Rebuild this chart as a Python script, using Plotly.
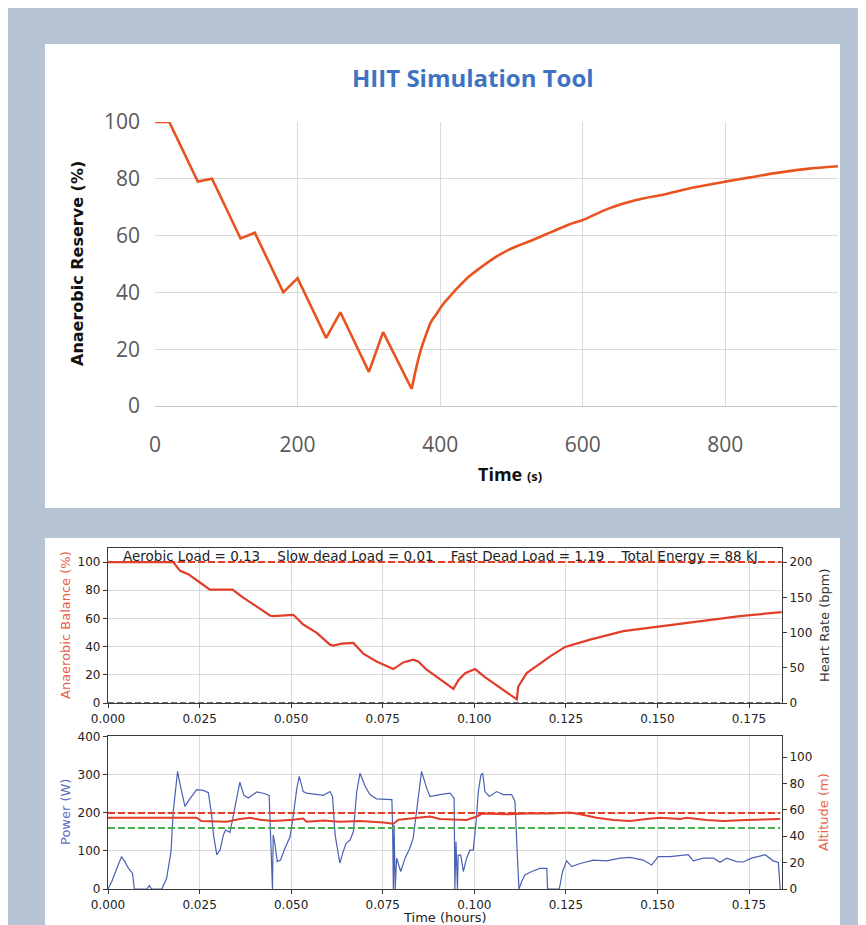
import plotly.graph_objects as go

W, H = 866, 925
OFF = 8  # page body margin: figure starts 8 px from the screenshot's top-left


def px(x):
    return (x - OFF) / W


def py(y):
    return 1 - (y - OFF) / H


# ---------------- Top chart (Excel style): Anaerobic Reserve vs Time (s) ----------------
excel_time = [0, 20, 60, 80, 120, 140, 180, 200, 240, 260, 300, 320, 360,
              366, 372, 380, 387, 395, 403, 415, 426, 440, 458, 475, 496, 515,
              535, 558, 582, 600, 636, 675, 714, 757, 800, 835, 870, 915, 963]
excel_reserve = [100, 100, 79, 80, 59, 61, 40, 45, 24, 33, 12, 26, 6,
                 13, 19, 25, 29.5, 32.5, 35.5, 39, 42, 45.5, 49, 52, 55, 57,
                 59, 61.5, 64, 65.5, 69.5, 72.5, 74.5, 77, 79, 80.5, 82, 83.5, 84.5]
excel_min_index = 12  # end of the interval zig-zag (t = 360 s)
excel_xticks = [0, 200, 400, 600, 800]
excel_yticks = [0, 20, 40, 60, 80, 100]

# ---------------- Bottom panel: Anaerobic balance (%) vs time (hours) ----------------
bal_time = [0.0, 0.0178, 0.0197, 0.0219, 0.0251, 0.0278, 0.034, 0.0369, 0.0397,
            0.0442, 0.0451, 0.0506, 0.0533, 0.057, 0.0606, 0.0615, 0.0638, 0.067,
            0.0697, 0.0733, 0.0779, 0.0806, 0.0833, 0.0847, 0.087, 0.0906, 0.0943,
            0.0957, 0.0975, 0.1002, 0.1029, 0.1116, 0.112, 0.1143, 0.118, 0.1207,
            0.1248, 0.1316, 0.1407, 0.1498, 0.1589, 0.1725, 0.1839]
bal_value = [100, 100, 93.8, 91.4, 85.5, 80.5, 80.5, 74.8, 70,
             62.1, 61.7, 62.6, 55.7, 49.8, 41.4, 40.7, 42.1, 42.6,
             35, 29.5, 24.1, 28.8, 30.7, 29.5, 23.6, 16.9, 10,
             16.4, 21.2, 24.1, 18.3, 2.6, 11.7, 21.2, 28.3, 33.1,
             39.8, 45, 51, 54, 57.4, 61.7, 64.5]
bal_ref_level = 100      # red dashed reference (%)
hr_level = 0             # heart-rate trace (bpm), flat at zero
time_ticks = [0.0, 0.025, 0.05, 0.075, 0.1, 0.125, 0.15, 0.175]
bal_ticks = [0, 20, 40, 60, 80, 100]
hr_ticks = [0, 50, 100, 150, 200]

aerobic_load = 0.13
slow_dead_load = 0.01
fast_dead_load = 1.19
total_energy_kj = 88

# ---------------- Bottom panel: Power (W) and Altitude (m) ----------------
pow_time = [0.0, 0.001, 0.0024, 0.0037, 0.0046, 0.0056, 0.0067, 0.0072, 0.0106, 0.0113,
            0.0119, 0.0147, 0.016, 0.0165, 0.0172, 0.0178, 0.0183, 0.019, 0.0195, 0.0204,
            0.021, 0.0222, 0.0242, 0.026, 0.0274, 0.0283, 0.0288, 0.0297, 0.0306, 0.0315,
            0.0321, 0.0333, 0.0342, 0.0351, 0.036, 0.0371, 0.0383, 0.0406, 0.0426, 0.044,
            0.0445, 0.0449, 0.0451, 0.0456, 0.0462, 0.0471, 0.0483, 0.0497, 0.0506, 0.0515,
            0.0522, 0.0533, 0.0542, 0.057, 0.0588, 0.0606, 0.0613, 0.062, 0.0627, 0.0633,
            0.0642, 0.065, 0.0661, 0.067, 0.0679, 0.0688, 0.0702, 0.0715, 0.0733, 0.0761,
            0.0775, 0.0777, 0.0779, 0.0781, 0.0784, 0.0788, 0.0793, 0.0799, 0.0811, 0.0824,
            0.0833, 0.0843, 0.0856, 0.087, 0.0879, 0.0906, 0.0934, 0.0945, 0.0947, 0.095,
            0.0954, 0.0956, 0.0963, 0.097, 0.0979, 0.0988, 0.0997, 0.1005, 0.1011, 0.1018,
            0.1023, 0.1029, 0.1041, 0.1061, 0.1079, 0.1102, 0.1111, 0.1117, 0.1122, 0.1129,
            0.1138, 0.1157, 0.1179, 0.1198, 0.12, 0.1232, 0.1241, 0.1252, 0.1266, 0.1289,
            0.1325, 0.1361, 0.1398, 0.1425, 0.1461, 0.1484, 0.1502, 0.1534, 0.1562, 0.1584,
            0.1598, 0.1625, 0.1653, 0.1671, 0.1689, 0.1716, 0.1734, 0.1757, 0.1794, 0.1816,
            0.183, 0.1835]
pow_value = [0, 19, 54, 85, 72, 54, 41, 0, 0, 9,
             0, 0, 28, 54, 98, 203, 256, 309, 283, 239,
             217, 235, 261, 259, 253, 194, 142, 90, 103, 142,
             155, 149, 194, 246, 281, 246, 239, 255, 251, 246,
             81, 0, 142, 116, 72, 76, 107, 137, 194, 261,
             296, 256, 252, 249, 246, 256, 243, 142, 98, 68,
             98, 120, 129, 151, 256, 304, 270, 248, 237, 235,
             235, 160, 0, 168, 0, 81, 63, 46, 81, 107,
             133, 212, 309, 265, 243, 248, 252, 238, 0, 124,
             0, 89, 89, 46, 81, 102, 102, 177, 256, 300,
             304, 256, 243, 256, 248, 248, 230, 98, 0, 19,
             37, 46, 54, 54, 0, 0, 46, 74, 59, 67,
             76, 74, 81, 83, 76, 63, 85, 85, 87, 90,
             74, 81, 81, 70, 81, 72, 71, 81, 90, 74,
             70, 0]

alt_time = [0.0, 0.0242, 0.0255, 0.0324, 0.036, 0.0388, 0.0415, 0.0451, 0.0506, 0.0533,
            0.0542, 0.0588, 0.0633, 0.0688, 0.0752, 0.0779, 0.0793, 0.0852, 0.0879, 0.0906,
            0.0979, 0.1005, 0.1023, 0.1086, 0.1143, 0.1207, 0.1261, 0.1289, 0.1334, 0.138,
            0.1425, 0.147, 0.1507, 0.1562, 0.158, 0.1634, 0.168, 0.1743, 0.1835]
alt_value = [54, 54, 51.5, 51, 53, 54, 52.5, 51.5, 52.5, 53.5,
             51, 52, 51, 51.5, 50.5, 49.5, 52.5, 54, 55, 53,
             52.3, 54.8, 57.3, 56.6, 57.3, 57.3, 58, 56.6, 54, 52.3,
             51.5, 53, 54, 53, 54, 52.3, 51.5, 52.3, 53]
cp_power = 200       # red dashed level (W)
green_power = 160    # green dashed level (W)
pow_ticks = [0, 100, 200, 300, 400]
alt_ticks = [0, 20, 40, 60, 80, 100]

# ---------------- Styles ----------------
BG = '#b7c4d4'
EXCEL_RED = '#e8531f'
MPL_RED = '#e23d28'
MPL_BLUE = '#4a60b4'
MPL_GREEN = '#4cb050'
LBL_RED = '#e8604c'
LBL_BLUE = '#5a6fc4'
DARK = '#222222'
MPL_FONT = 'DejaVu Sans'
XL_FONT = 'Open Sans'

fig = go.Figure()

# Excel chart line: linear zig-zag, smooth recovery
k = excel_min_index
fig.add_trace(go.Scatter(x=excel_time[:k + 1], y=excel_reserve[:k + 1], mode='lines',
                         line=dict(color=EXCEL_RED, width=2.6),
                         xaxis='x', yaxis='y', showlegend=False, hoverinfo='skip'))
fig.add_trace(go.Scatter(x=excel_time[k:], y=excel_reserve[k:], mode='lines',
                         line=dict(color=EXCEL_RED, width=2.6, shape='spline', smoothing=0.8),
                         xaxis='x', yaxis='y', showlegend=False, hoverinfo='skip'))

# Anaerobic balance subplot
t_ext = [bal_time[0], bal_time[-1]]
fig.add_trace(go.Scatter(x=t_ext, y=[hr_level, hr_level], mode='lines',
                         line=dict(color='#3a3a3a', width=1.6, dash='6px,3px'),
                         xaxis='x2', yaxis='y3', showlegend=False, hoverinfo='skip'))
fig.add_trace(go.Scatter(x=t_ext, y=[bal_ref_level, bal_ref_level], mode='lines',
                         line=dict(color=MPL_RED, width=2, dash='7px,3px'),
                         xaxis='x2', yaxis='y2', showlegend=False, hoverinfo='skip'))
fig.add_trace(go.Scatter(x=bal_time, y=bal_value, mode='lines',
                         line=dict(color=MPL_RED, width=2.2),
                         xaxis='x2', yaxis='y2', showlegend=False, hoverinfo='skip'))

# Power / altitude subplot
fig.add_trace(go.Scatter(x=pow_time, y=pow_value, mode='lines',
                         line=dict(color=MPL_BLUE, width=1.2),
                         xaxis='x3', yaxis='y4', showlegend=False, hoverinfo='skip'))
p_ext = [pow_time[0], pow_time[-1]]
fig.add_trace(go.Scatter(x=p_ext, y=[cp_power, cp_power], mode='lines',
                         line=dict(color=MPL_RED, width=2, dash='7px,3px'),
                         xaxis='x3', yaxis='y4', showlegend=False, hoverinfo='skip'))
fig.add_trace(go.Scatter(x=p_ext, y=[green_power, green_power], mode='lines',
                         line=dict(color=MPL_GREEN, width=2, dash='7px,3px'),
                         xaxis='x3', yaxis='y4', showlegend=False, hoverinfo='skip'))
fig.add_trace(go.Scatter(x=alt_time, y=alt_value, mode='lines',
                         line=dict(color=MPL_RED, width=2),
                         xaxis='x3', yaxis='y5', showlegend=False, hoverinfo='skip'))

mpl_tickfont = dict(family=MPL_FONT, size=12, color=DARK)
grid_c = '#d9d9d9'

mpl_x = dict(range=[0, 0.184], tickvals=time_ticks, tickformat='.3f', automargin=False,
             showgrid=True, gridcolor=grid_c, gridwidth=1, zeroline=False,
             showline=True, linecolor='#3a3a3a', linewidth=1.2, mirror=True,
             ticks='outside', ticklen=4, tickcolor='#3a3a3a', tickfont=mpl_tickfont)
mpl_yl = dict(showgrid=True, gridcolor=grid_c, gridwidth=1, zeroline=False, automargin=False,
              showline=True, linecolor='#3a3a3a', linewidth=1.2, mirror=True,
              ticks='outside', ticklen=4, tickcolor='#3a3a3a', tickfont=mpl_tickfont)
mpl_yr = dict(showgrid=False, zeroline=False, showline=False, side='right', automargin=False,
              ticks='outside', ticklen=4, tickcolor='#3a3a3a', tickfont=mpl_tickfont)

fig.update_layout(
    width=W, height=H,
    margin=dict(l=0, r=0, t=0, b=0, pad=0, autoexpand=False),
    paper_bgcolor=BG, plot_bgcolor='rgba(0,0,0,0)',
    showlegend=False,
    xaxis=dict(domain=[px(155), px(838)], range=[0, 958], anchor='y', automargin=False,
               tickvals=excel_xticks, showgrid=True, gridcolor=grid_c, gridwidth=1,
               zeroline=False, showline=True, linecolor='#c4c4c4', linewidth=1.2,
               ticks='', ticklabelstandoff=20,
               tickfont=dict(family=XL_FONT, size=21, color='#595959')),
    yaxis=dict(domain=[py(406), py(122)], range=[0, 100], anchor='x', automargin=False,
               tickvals=excel_yticks, showgrid=True, gridcolor=grid_c, gridwidth=1,
               zeroline=False, showline=False, ticks='', ticklabelstandoff=14,
               tickfont=dict(family=XL_FONT, size=21, color='#595959')),
    xaxis2=dict(domain=[px(108), px(782)], anchor='y2', **mpl_x),
    yaxis2=dict(domain=[py(703), py(548)], range=[0, 110], anchor='x2',
                tickvals=bal_ticks, **mpl_yl),
    yaxis3=dict(overlaying='y2', anchor='x2', range=[0, 220], tickvals=hr_ticks, **mpl_yr),
    xaxis3=dict(domain=[px(108), px(782)], anchor='y4', **mpl_x),
    yaxis4=dict(domain=[py(889), py(736)], range=[0, 402], anchor='x3',
                tickvals=pow_ticks, **mpl_yl),
    yaxis5=dict(overlaying='y4', anchor='x3', range=[0, 116], tickvals=alt_ticks, **mpl_yr),
)

shapes = [
    # white panels
    dict(type='rect', xref='paper', yref='paper', x0=px(45), x1=px(840), y0=py(508), y1=py(44),
         fillcolor='white', line=dict(width=0), layer='below'),
    dict(type='rect', xref='paper', yref='paper', x0=px(45), x1=px(840), y0=0, y1=py(538),
         fillcolor='white', line=dict(width=0), layer='below'),
]
# subtle Excel plot-area gradient
n_bands = 30
for b in range(n_bands):
    shapes.append(dict(type='rect', xref='x domain', yref='y domain', x0=0, x1=1,
                       y0=0, y1=0.5 * (1 - b / n_bands),
                       fillcolor='rgba(0,0,0,0.0014)', line=dict(width=0), layer='below'))
fig.update_layout(shapes=shapes)

nb = '\u00a0'
info = (f"Aerobic Load = {aerobic_load:.2f}{nb*4}Slow dead Load = {slow_dead_load:.2f}"
        f"{nb*4}Fast Dead Load = {fast_dead_load:.2f}{nb*4}Total Energy = {total_energy_kj} kJ")


def ann(text, x, y, size, color, family=MPL_FONT, angle=0):
    return dict(text=text, x=px(x), y=py(y), xref='paper', yref='paper',
                xanchor='center', yanchor='middle', showarrow=False, textangle=angle,
                font=dict(family=family, size=size, color=color))


annotations = [
    ann('<b>HIIT Simulation Tool</b>', 473, 77, 24, '#3d72c4', XL_FONT),
    ann('<b>Anaerobic Reserve (%)</b>', 77, 264, 16, '#111111', 'DejaVu Sans', -90),
    ann("<b>Time</b> <span style='font-size:13px'><b>(s)</b></span>", 510, 474, 18, '#111111', XL_FONT),
    ann(info, 440, 556, 13.5, DARK),
    ann('Anaerobic Balance (%)', 65, 625, 13, LBL_RED, MPL_FONT, -90),
    ann('Heart Rate (bpm)', 824, 625, 13, '#333333', MPL_FONT, -90),
    ann('Power (W)', 65, 812, 13, LBL_BLUE, MPL_FONT, -90),
    ann('Altitude (m)', 823, 812, 13, LBL_RED, MPL_FONT, -90),
    ann('Time (hours)', 445, 917, 13, DARK),
]
fig.update_layout(annotations=annotations)

fig.write_html("out.html")
